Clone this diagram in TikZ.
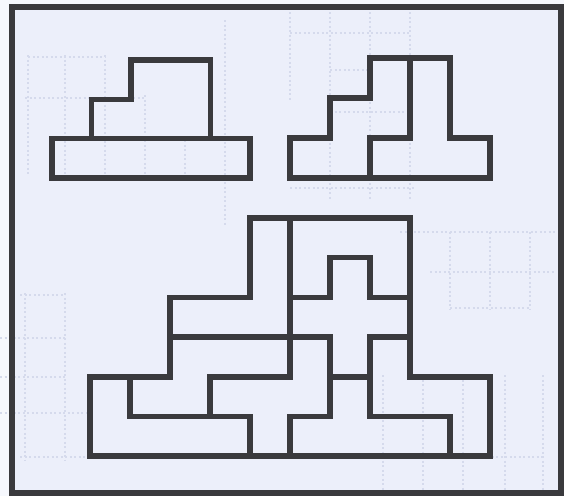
\documentclass[tikz,border=0pt]{standalone}
\definecolor{ink}{HTML}{3A3A3D}
\definecolor{paper}{HTML}{ECEFFA}
\definecolor{ghost}{HTML}{D5DAEC}
\tikzset{
  piece/.style={draw=ink, line width=5.5pt, line join=miter},
  ghostline/.style={draw=ghost, line width=1.2pt, dash pattern=on 2pt off 2.5pt},
  framebox/.style={draw=ink, line width=6pt}
}
\begin{document}
\begin{tikzpicture}[x=1pt,y=-1pt]
\useasboundingbox (0,0) rectangle (564,496);
\fill[white!55!paper] (0,0) rectangle (564,496);
\fill[paper] (12,7) rectangle (561,493);
% faint show-through grid
\draw[ghostline] (225,20) -- (225,225);
\draw[ghostline] (28,55) -- (28,175) (65,55) -- (65,175) (105,55) -- (105,175) (145,95) -- (145,175) (185,140) -- (185,175);
\draw[ghostline] (28,57) -- (105,57) (25,98) -- (145,98);
\draw[ghostline] (290,12) -- (290,100) (330,12) -- (330,200) (370,12) -- (370,200) (410,12) -- (410,200);
\draw[ghostline] (290,33) -- (410,33) (330,70) -- (370,70) (330,112) -- (410,112) (290,188) -- (415,188);
\draw[ghostline] (400,232) -- (555,232) (430,272) -- (555,272) (450,308) -- (530,308);
\draw[ghostline] (450,232) -- (450,310) (490,232) -- (490,310) (530,232) -- (530,310);
\draw[ghostline] (25,293) -- (25,460) (65,293) -- (65,460);
\draw[ghostline] (20,295) -- (65,295) (0,338) -- (65,338) (0,377) -- (65,377) (0,413) -- (90,413) (20,457) -- (90,457);
\draw[ghostline] (383,375) -- (383,490) (423,375) -- (423,490) (463,375) -- (463,490) (505,375) -- (505,490) (543,375) -- (543,490);
\draw[ghostline] (460,457) -- (545,457);
% frame
\draw[framebox] (12,7) rectangle (561,493);
% top-left figure
\begin{scope}[shift={(52pt,-60pt)}, x=39.6pt, y=-39.3pt]
  \draw[piece] (1,2) -- (1,1) -- (2,1) -- (2,0) -- (4,0) -- (4,2) -- cycle;
  \draw[piece] (0,2) -- (5,2) -- (5,3) -- (0,3) -- cycle;
\end{scope}
% top-right figure
\begin{scope}[shift={(290pt,-58pt)}, x=40pt, y=-40pt]
  \draw[piece] (0,3) -- (0,2) -- (1,2) -- (1,1) -- (2,1) -- (2,0) -- (3,0) -- (3,2) -- (2,2) -- (2,3) -- cycle;
  \draw[piece] (2,3) -- (2,2) -- (3,2) -- (3,0) -- (4,0) -- (4,2) -- (5,2) -- (5,3) -- cycle;
\end{scope}
% bottom figure
\begin{scope}[shift={(90pt,-218pt)}, x=40pt, y=-39.7pt]
  \draw[piece] (4,0) -- (5,0) -- (5,3) -- (2,3) -- (2,2) -- (4,2) -- cycle;
  \draw[piece] (5,0) -- (8,0) -- (8,2) -- (7,2) -- (7,1) -- (6,1) -- (6,2) -- (5,2) -- cycle;
  \draw[piece] (6,1) -- (7,1) -- (7,2) -- (8,2) -- (8,3) -- (7,3) -- (7,4) -- (6,4) -- (6,3) -- (5,3) -- (5,2) -- (6,2) -- cycle;
  \draw[piece] (2,3) -- (5,3) -- (5,4) -- (3,4) -- (3,5) -- (1,5) -- (1,4) -- (2,4) -- cycle;
  \draw[piece] (0,4) -- (1,4) -- (1,5) -- (4,5) -- (4,6) -- (0,6) -- cycle;
  \draw[piece] (5,3) -- (6,3) -- (6,5) -- (5,5) -- (5,6) -- (4,6) -- (4,5) -- (3,5) -- (3,4) -- (5,4) -- cycle;
  \draw[piece] (6,4) -- (7,4) -- (7,5) -- (9,5) -- (9,6) -- (5,6) -- (5,5) -- (6,5) -- cycle;
  \draw[piece] (7,3) -- (8,3) -- (8,4) -- (10,4) -- (10,6) -- (9,6) -- (9,5) -- (7,5) -- cycle;
\end{scope}
\end{tikzpicture}
\end{document}
